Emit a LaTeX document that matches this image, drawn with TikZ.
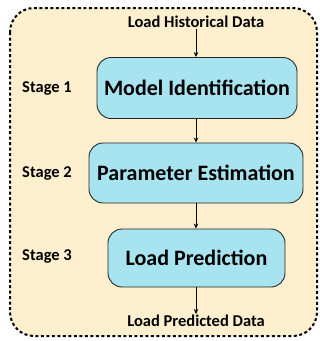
\documentclass[tikz,border=0pt]{standalone}
\usepackage{fontspec}
\setmainfont{Carlito}
\usetikzlibrary{arrows.meta}
\definecolor{bgpeach}{HTML}{FEF0CF}
\definecolor{boxcyan}{HTML}{A8E4F0}
\begin{document}
\begin{tikzpicture}[x=1pt,y=-1pt,
  stagebox/.style={draw=black!85, line width=0.9pt, fill=boxcyan, rounded corners=14pt, inner sep=0pt, font=\bfseries\fontsize{22}{26}\selectfont},
  lbl/.style={font=\bfseries\fontsize{16.5}{19}\selectfont, inner sep=1pt},
  arr/.style={-{Stealth[length=5pt,width=4.5pt]}, line width=1pt}]
\useasboundingbox (0,0) rectangle (320,341);
\draw[fill=bgpeach, line width=2pt, dash pattern=on 3pt off 2.5pt, rounded corners=24pt] (10,8) rectangle (317,336);
\node[stagebox, minimum width=200pt, minimum height=61pt] (b1) at (197,88) {Model Identification};
\node[stagebox, minimum width=214pt, minimum height=60pt] (b2) at (196,173) {Parameter Estimation};
\node[stagebox, minimum width=177pt, minimum height=58pt] (b3) at (196.5,258) {Load Prediction};
\node[lbl] (in) at (196,22) {Load Historical Data};
\node[lbl] (out) at (196,321) {Load Predicted Data};
\node[lbl] (s1) at (47,88) {Stage 1};
\node[lbl] (s2) at (47,173) {Stage 2};
\node[lbl] (s3) at (47,256) {Stage 3};
\coordinate (ax) at (196,0);
\draw[arr] (in.south -| ax) -- (b1.north -| ax);
\draw[arr] (b1.south -| ax) -- (b2.north -| ax);
\draw[arr] (b2.south -| ax) -- (b3.north -| ax);
\draw[arr] (b3.south -| ax) -- (out.north -| ax);
\end{tikzpicture}
\end{document}
